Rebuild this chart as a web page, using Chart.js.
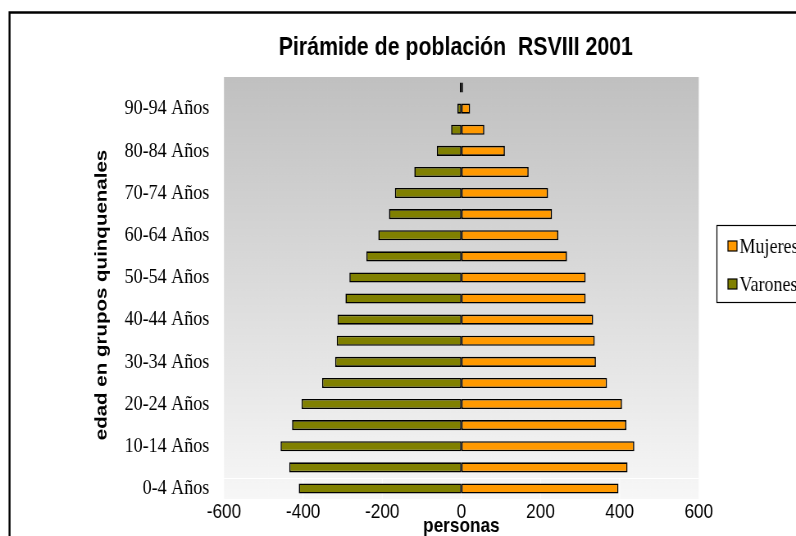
<!DOCTYPE html>
<html><head><meta charset="utf-8">
<script src="https://cdn.jsdelivr.net/npm/chart.js@4.4.1/dist/chart.umd.min.js"></script>
<style>
html,body{margin:0;padding:0;background:#fff;overflow:hidden}
#c{display:block}
</style>
</head><body>
<canvas id="c" width="971" height="536" style="width:796px;height:536px"></canvas>
<script>
// Data (bottom to top: youngest to oldest)
const ageGroups = ['0-4 Años','5-9 Años','10-14 Años','15-19 Años','20-24 Años','25-29 Años','30-34 Años','35-39 Años','40-44 Años','45-49 Años','50-54 Años','55-59 Años','60-64 Años','65-69 Años','70-74 Años','75-79 Años','80-84 Años','85-89 Años','90-94 Años','95-99 Años'];
const varones = [-411,-435,-457,-428,-404,-352,-319,-315,-313,-293,-283,-240,-210,-183,-168,-119,-62,-26,-10,-4];
const mujeres = [397,420,437,417,406,368,340,337,333,314,314,267,245,229,219,170,110,58,22,4];
const xTickValues = [-600,-400,-200,0,200,400,600];
const chartTitle = 'Pirámide de población  RSVIII 2001';
const yTitle = 'edad en grupos quinquenales';
const xTitle = 'personas';

const SANS = '"Liberation Sans", Arial, sans-serif';
const SERIF = '"Liberation Serif", "Times New Roman", serif';

const bgPlugin = {
  id: 'bg',
  beforeDatasetsDraw(chart) {
    const {ctx, chartArea: a, scales} = chart;
    ctx.save();
    const g = ctx.createLinearGradient(0, a.top, 0, a.bottom);
    g.addColorStop(0, '#c0c0c0');
    g.addColorStop(1, '#f7f7f7');
    ctx.fillStyle = g;
    ctx.fillRect(a.left, a.top, a.right - a.left, a.bottom - a.top);
    // faint white grid near the bottom band
    const yb = (scales.y.getPixelForValue(0) + scales.y.getPixelForValue(1)) / 2;
    ctx.strokeStyle = '#ffffff';
    ctx.lineWidth = 1;
    ctx.beginPath();
    ctx.moveTo(a.left, Math.round(yb) + 0.5);
    ctx.lineTo(a.right, Math.round(yb) + 0.5);
    xTickValues.slice(1, -1).forEach(v => {
      const x = scales.x.getPixelForValue(v);
      ctx.moveTo(x, yb);
      ctx.lineTo(x, a.bottom);
    });
    ctx.stroke();
    ctx.restore();
  }
};

const decorPlugin = {
  id: 'decor',
  afterDraw(chart) {
    const {ctx, chartArea: a} = chart;
    ctx.save();
    // outer frame
    ctx.strokeStyle = '#000';
    ctx.lineWidth = 2.4;
    ctx.beginPath();
    ctx.moveTo(11.6, 540);
    ctx.lineTo(11.6, 12.5);
    ctx.lineTo(980, 12.5);
    ctx.stroke();
    // title
    ctx.fillStyle = '#000';
    ctx.textAlign = 'center';
    ctx.textBaseline = 'middle';
    ctx.font = 'bold 26px ' + SANS;
    ctx.fillText(chartTitle, 556, 48);
    // x title
    ctx.font = 'bold 21px ' + SANS;
    ctx.fillText(xTitle, (a.left + a.right) / 2, 526);
    // y title
    ctx.save();
    ctx.translate(124, 295);
    ctx.rotate(-Math.PI / 2);
    ctx.font = 'bold 20.5px ' + SANS;
    ctx.fillText(yTitle, 0, 0);
    ctx.restore();
    // legend
    ctx.lineWidth = 1.2;
    ctx.strokeStyle = '#000';
    ctx.fillStyle = '#fff';
    ctx.fillRect(874.5, 225.5, 120, 77);
    ctx.strokeRect(874.5, 225.5, 120, 77);
    const items = chart.data.datasets;
    const ys = [246, 284];
    ctx.textAlign = 'left';
    ctx.font = '22px ' + SERIF;
    items.forEach((ds, i) => {
      ctx.fillStyle = ds.backgroundColor;
      ctx.fillRect(888, ys[i] - 5, 11, 10);
      ctx.lineWidth = 1.2;
      ctx.strokeRect(888, ys[i] - 5, 11, 10);
      ctx.fillStyle = '#000';
      ctx.fillText(ds.label, 902, ys[i] + 1);
    });
    ctx.restore();
  }
};

new Chart(document.getElementById('c'), {
  type: 'bar',
  data: {
    labels: ageGroups,
    datasets: [
      {label: 'Mujeres', data: mujeres, backgroundColor: '#FF9900', borderColor: '#000', borderWidth: 1.6, borderSkipped: false, barPercentage: 0.48, categoryPercentage: 1},
      {label: 'Varones', data: varones, backgroundColor: '#808000', borderColor: '#000', borderWidth: 1.6, borderSkipped: false, barPercentage: 0.48, categoryPercentage: 1}
    ]
  },
  options: {
    indexAxis: 'y',
    responsive: false,
    animation: false,
    devicePixelRatio: 1,
    layout: {padding: {top: 77, left: 0, right: 118.6, bottom: 0}},
    plugins: {legend: {display: false}, tooltip: {enabled: false}, title: {display: false}},
    scales: {
      x: {
        stacked: true,
        min: -600, max: 600,
        afterBuildTicks(scale) { scale.ticks = xTickValues.map(v => ({value: v})); },
        afterFit(scale) { scale.height = 37; },
        grid: {display: false, drawTicks: false},
        border: {display: false},
        ticks: {color: '#000', padding: 1, font: {family: SANS, size: 21}, callback: v => String(v)}
      },
      y: {
        stacked: true,
        reverse: true,
        afterFit(scale) { scale.width = 273.2; },
        grid: {display: false, drawTicks: false},
        border: {display: false},
        ticks: {color: '#000', padding: 18, autoSkip: false, font: {family: SERIF, size: 22},
          callback: (v, i) => (i % 2 === 0 ? ageGroups[i] : '')}
      }
    }
  },
  plugins: [bgPlugin, decorPlugin]
});
</script>
</body></html>
